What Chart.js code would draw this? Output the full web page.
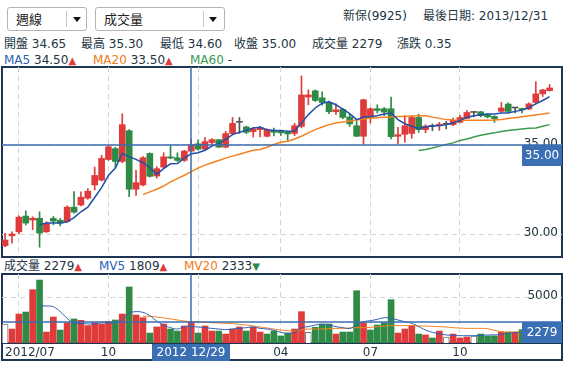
<!DOCTYPE html>
<html>
<head>
<meta charset="utf-8">
<script src="https://cdn.jsdelivr.net/npm/chart.js@4.4.0/dist/chart.umd.min.js"></script>
<style>
  body { margin: 0; background: #fff; }
  #wrap { position: relative; width: 567px; height: 369px; overflow: hidden;
          font-family: "DejaVu Sans", "Noto Sans CJK TC", sans-serif; font-size: 12px; color: #23353f; }
  .t { position: absolute; white-space: nowrap; line-height: 14px; }
  .sel { position: absolute; top: 7px; height: 24px; box-sizing: border-box; border: 1px solid #b5b5b5;
         border-radius: 3px; background: #fff; }
  .sel span { position: absolute; left: 8px; top: 4px; font-size: 13px; line-height: 15px; color: #222; }
  .sep { position: absolute; top: 3px; width: 1px; height: 16px; background: #c8c8c8; }
  .arr { position: absolute; top: 9px; width: 0; height: 0; border-left: 4px solid transparent;
         border-right: 4px solid transparent; border-top: 5px solid #111; }
  .frame { position: absolute; box-sizing: border-box; border: 2px solid #1d3553; }
  .up { color: #e03b3b; font-size: 10px; }
  .dn { color: #2f8a45; font-size: 10px; }
  canvas { position: absolute; left: 0; top: 0; }
</style>
</head>
<body>
<div id="wrap">
  <div class="sel" style="left:7px;width:80px;"><span>週線</span><i class="sep" style="left:58px"></i><i class="arr" style="left:65px"></i></div>
  <div class="sel" style="left:95px;width:130px;"><span>成交量</span><i class="sep" style="left:107px"></i><i class="arr" style="left:113px"></i></div>
  <div class="t" style="left:343px;top:9px">新保(9925)</div>
  <div class="t" style="left:423px;top:9px">最後日期: 2013/12/31</div>

  <div class="t" style="left:4px;top:37px">開盤 34.65</div>
  <div class="t" style="left:81px;top:37px">最高 35.30</div>
  <div class="t" style="left:160px;top:37px">最低 34.60</div>
  <div class="t" style="left:234px;top:37px">收盤 35.00</div>
  <div class="t" style="left:312px;top:37px">成交量 2279</div>
  <div class="t" style="left:397px;top:37px">漲跌 0.35</div>

  <div class="t" style="left:4px;top:53px"><span style="color:#2d5fb5">MA5</span> 34.50<span class="up">▲</span></div>
  <div class="t" style="left:93px;top:53px"><span style="color:#f07a16">MA20</span> 33.50<span class="up">▲</span></div>
  <div class="t" style="left:190px;top:53px"><span style="color:#3c9a4f">MA60</span> -</div>

  <div class="t" style="left:4px;top:259px">成交量 2279<span class="up">▲</span></div>
  <div class="t" style="left:99px;top:259px"><span style="color:#2d5fb5">MV5</span> 1809<span class="up">▲</span></div>
  <div class="t" style="left:184px;top:259px"><span style="color:#f07a16">MV20</span> 2333<span class="dn">▼</span></div>

  <div class="frame" style="left:1px;top:66px;width:562px;height:192px;"></div>
  <div class="frame" style="left:1px;top:273px;width:562px;height:88px;"></div>
  <div style="position:absolute;left:1px;top:342px;width:562px;height:2px;background:#1d3553;"></div>

  <canvas id="price" width="567" height="369"></canvas>
  <canvas id="volume" width="567" height="369"></canvas>
</div>

<script>
// weekly candles, index 0 = week of 2012/06/23 ... index 79 = week of 2013/12/31
const open  = [29.37,29.92,30.14,31.02,30.80,30.90,30.14,30.89,30.79,30.72,
               31.52,31.64,32.02,32.76,33.03,34.18,34.79,34.07,35.79,32.52,
               32.76,34.52,33.26,33.76,34.33,34.28,34.13,34.65,35.06,34.76,
               35.13,35.29,34.87,35.63,36.26,36.00,35.74,35.85,35.48,35.81,
               35.76,35.70,35.64,36.03,37.67,38.02,37.63,37.37,36.85,36.98,
               36.56,36.07,35.48,36.50,37.02,37.02,37.02,35.48,35.59,35.64,
               36.53,35.85,36.03,36.08,36.15,36.13,36.26,36.48,36.81,36.85,
               36.68,36.59,36.87,37.28,37.06,37.03,37.00,37.37,37.85,38.03];
const high  = [30.06,30.14,31.03,31.31,30.98,31.26,30.70,31.00,30.89,31.59,
               32.39,32.37,32.56,33.76,34.41,34.98,34.87,36.74,35.85,33.57,
               34.35,34.55,33.78,34.56,34.98,34.56,34.70,35.30,35.28,35.41,
               35.35,35.30,35.76,36.53,36.53,36.05,35.98,36.03,35.90,35.94,
               35.82,35.74,36.20,38.85,38.07,38.07,37.96,37.44,37.29,37.02,
               36.72,36.31,37.55,37.06,37.24,37.09,37.67,35.98,36.63,36.63,
               36.72,36.13,36.17,36.26,36.31,36.50,36.65,36.91,36.85,36.87,
               36.76,36.63,37.37,37.35,37.08,37.05,37.35,38.53,38.10,38.37];
const low   = [29.31,29.50,30.02,30.52,30.26,29.28,30.11,30.53,30.48,30.67,
               31.18,31.59,31.96,32.48,32.98,34.13,33.72,34.00,32.11,32.17,
               32.70,33.20,33.14,33.72,34.22,34.07,34.07,34.60,34.70,34.74,
               35.03,34.85,34.83,35.57,35.63,35.63,35.44,35.44,35.44,35.50,
               35.52,35.24,35.52,35.95,37.24,37.42,37.22,36.74,36.70,36.46,
               36.03,35.46,35.06,36.22,36.78,36.63,35.33,35.06,35.15,35.37,
               35.70,35.67,35.79,35.81,35.89,36.07,36.22,36.46,36.56,36.56,
               36.50,36.26,36.81,36.81,36.78,36.78,36.96,37.29,37.70,38.00];
const close = [29.68,30.02,30.96,30.63,30.90,30.07,30.61,30.74,30.63,31.52,
               31.24,32.07,32.41,33.29,34.24,34.89,34.07,36.13,32.52,32.89,
               34.28,33.24,33.67,34.33,34.26,34.13,34.65,35.00,34.76,35.18,
               35.29,34.87,35.63,36.20,36.26,35.70,35.89,35.98,35.85,35.70,
               35.67,35.61,36.07,37.79,37.79,37.48,37.37,36.85,36.96,36.53,
               36.17,35.48,37.52,37.02,36.92,36.83,35.46,35.57,36.07,36.53,
               35.85,36.05,36.03,36.15,36.15,36.37,36.53,36.81,36.81,36.63,
               36.56,36.46,37.06,36.87,37.06,36.96,37.29,37.85,38.07,38.18];
const volume = [2080,1530,3170,3390,5830,6890,1200,2840,1420,2220,
                2630,2480,1900,2220,2080,2370,2520,3170,6130,3060,
                2770,1090,1750,2080,1530,1310,1860,2279,1090,1860,
                1310,1310,980,1530,1750,1310,1750,1200,980,1310,
                770,1090,1530,3430,1170,1710,2080,2080,980,1200,
                1200,5720,2220,1420,1970,2220,4740,1090,1530,1900,
                980,880,550,1310,660,980,550,660,770,980,
                770,770,1200,1200,1200,1460,1250,1900,1400,1300];

// moving averages as drawn (first value at the given index)
const ma5Start = 5;
const ma5 = [30.54,30.63,30.63,30.63,30.70,30.94,31.26,31.52,32.06,32.61,33.30,33.70,34.52,34.33,34.19,
             34.00,33.72,33.35,33.67,33.94,33.96,34.26,34.50,34.56,34.70,
             34.93,35.07,35.30,35.57,35.70,35.81,35.94,35.98,35.85,35.80,
             35.80,35.76,35.78,36.22,36.69,37.06,37.33,37.41,37.24,37.00,
             36.74,36.41,36.54,36.59,36.63,36.72,36.78,36.41,36.18,36.04,
             35.91,36.00,36.07,36.07,36.13,36.22,36.37,36.53,36.63,36.68,
             36.72,36.72,36.78,36.78,36.87,36.94,37.09,37.29,37.48,37.70];
const ma20Start = 20;
const ma20 = [32.22,32.37,32.52,32.70,32.93,33.11,33.30,33.50,33.70,33.87,
              34.00,34.13,34.26,34.37,34.48,34.59,34.70,34.74,34.87,35.02,
              35.15,35.20,35.33,35.48,35.67,35.85,36.00,36.13,36.22,36.28,
              36.33,36.39,36.44,36.50,36.52,36.54,36.56,36.59,36.59,36.61,
              36.63,36.63,36.55,36.48,36.41,36.39,36.38,36.38,36.38,36.38,
              36.38,36.39,36.42,36.47,36.52,36.57,36.62,36.67,36.72,36.78];
const ma60Start = 60;
const ma60 = [34.68,34.74,34.83,34.93,35.02,35.11,35.24,35.33,35.44,35.54,
              35.61,35.67,35.74,35.80,35.85,35.89,35.93,35.94,36.04,36.13];
const mv5Start = 5;
const mv5 = [4080,4050,3970,3430,2700,2150,2150,2080,2080,2220,2190,2190,2520,3250,3430,
             3350,2990,2410,1970,1680,1530,1790,1809,1750,1680,
             1600,1530,1460,1530,1600,1680,1750,1600,1530,1390,
             1170,1060,1170,1680,1790,1970,2040,1970,1790,1680,
             1600,1970,2330,2440,2590,2770,2700,2520,2330,2150,
             1790,1420,1170,1020,880,840,800,800,800,840,
             880,880,950,1060,1130,1170,1200,1300,1350,1400];
const mv20Start = 20;
const mv20 = [2920,2920,2840,2740,2630,2520,2410,2333,2300,2260,
              2220,2190,2150,2120,2040,1970,1860,1750,1640,1530,
              1420,1350,1310,1420,1530,1530,1530,1570,1600,1600,
              1640,1680,1680,1710,1790,1860,1900,1900,1900,1900,
              1860,1860,1820,1790,1750,1680,1640,1600,1600,1600,
              1570,1390,1240,1200,1200,1170,1170,1180,1190,1200];

// x axis ticks (first week of each quarter month) and the crosshair week
const tickIdx = [2, 15, 28, 40, 53, 66];
const tickLabels = ['2012/07', '10', '2013/01', '04', '07', '10'];
const crossIdx = 27;
const crossDate = '2012 12/29';
const priceTicks = [30, 35];
const volumeTicks = [5000];

const RED = '#e03b3b', GREEN = '#2f8a45', GRAY = '#555555';
const GRID = '#d4d4d4', CROSS = '#3d6db0', BOX = '#3b6fb3', TEXT = '#23353f';
const FONT = '12px "DejaVu Sans", "Noto Sans CJK TC", sans-serif';
const X_MIN = -0.45, X_MAX = 80.8;

const idx = close.map((c, i) => i);
const candleColors = idx.map(i => close[i] > open[i] ? RED : (close[i] < open[i] ? GREEN : GRAY));
const flat = i => i === 0 || close[i] === close[i - 1];
const volColors = idx.map(i => flat(i) ? '#ffffff' : (close[i] > close[i - 1] ? RED : GREEN));
const volBorderW = idx.map(i => flat(i) ? 1 : 0);

function pts(arr, start) {
  return arr.map((v, k) => ({ x: start + k, y: v }));
}

function xScale() {
  return {
    type: 'linear', min: X_MIN, max: X_MAX, offset: false,
    afterBuildTicks: s => { s.ticks = tickIdx.map(v => ({ value: v })); },
    ticks: { display: false },
    grid: { color: GRID, drawTicks: false, offset: false },
    border: { display: false, dash: [5, 4] },
    afterFit: s => { s.height = 0; }
  };
}

function yScale(min, max, ticks) {
  return {
    type: 'linear', position: 'right', min: min, max: max,
    afterBuildTicks: s => { s.ticks = ticks.map(v => ({ value: v })); },
    ticks: { display: false },
    grid: { color: GRID, drawTicks: false },
    border: { display: false, dash: [5, 4] },
    afterFit: s => { s.width = 0; }
  };
}

function line(data, color, width, tension) {
  return { type: 'line', data: data, borderColor: color, borderWidth: width, pointRadius: 0,
           tension: tension, fill: false, order: 0 };
}

// labels, crosshair and value boxes
function overlay(id, ticks, fmt, crossValue, withDates) {
  return {
    id: id,
    afterDraw(chart) {
      const { ctx, chartArea: a, scales: { x, y } } = chart;
      ctx.save();
      ctx.font = FONT;
      ctx.fillStyle = TEXT;
      ctx.textAlign = 'right';
      ctx.textBaseline = 'middle';
      ticks.forEach(v => ctx.fillText(fmt(v), a.right - 4, y.getPixelForValue(v) - 1));

      if (withDates) {
        ctx.textAlign = 'left';
        tickIdx.forEach((v, k) => {
          const w = ctx.measureText(tickLabels[k]).width;
          const px = Math.max(x.getPixelForValue(v) - w / 2, a.left + 3);
          ctx.fillText(tickLabels[k], px, a.bottom + 10);
        });
      }

      const cx = Math.round(x.getPixelForValue(crossIdx));
      const cy = Math.round(y.getPixelForValue(crossValue));
      ctx.strokeStyle = CROSS;
      ctx.lineWidth = 1.5;
      ctx.beginPath();
      ctx.moveTo(a.left, cy); ctx.lineTo(a.right, cy);
      ctx.moveTo(cx, a.top); ctx.lineTo(cx, a.bottom);
      ctx.stroke();

      ctx.fillStyle = BOX;
      ctx.fillRect(a.right - 40, cy, 40, 21);
      ctx.fillStyle = '#ffffff';
      ctx.textAlign = 'center';
      ctx.fillText(fmt(crossValue), a.right - 20, cy + 11);

      if (withDates) {
        ctx.fillStyle = BOX;
        ctx.fillRect(cx - 39, a.bottom + 1, 78, 17);
        ctx.fillStyle = '#ffffff';
        ctx.fillText(crossDate, cx, a.bottom + 10);
      }
      ctx.restore();
    }
  };
}

const common = {
  responsive: false,
  animation: false,
  events: [],
  plugins: { legend: { display: false }, tooltip: { enabled: false } }
};

new Chart(document.getElementById('price'), {
  type: 'bar',
  data: {
    datasets: [
      line(pts(ma5, ma5Start), '#2050aa', 1.5, 0),
      line(pts(ma20, ma20Start), '#f5821f', 1.5, 0),
      line(pts(ma60, ma60Start), '#3c9a4f', 1.5, 0),
      { label: 'body', data: idx.map(i => ({ x: i, y: [open[i], close[i]] })),
        backgroundColor: candleColors, barThickness: 6, grouped: false, minBarLength: 1, order: 1 },
      { label: 'wick', data: idx.map(i => ({ x: i, y: [low[i], high[i]] })),
        backgroundColor: candleColors, barThickness: 1, grouped: false, order: 2 }
    ]
  },
  options: Object.assign({}, common, {
    layout: { padding: { left: 2, right: 5, top: 67, bottom: 113 } },
    scales: { x: xScale(), y: yScale(28.79, 39.35, priceTicks) }
  }),
  plugins: [overlay('priceOverlay', priceTicks, v => v.toFixed(2), close[crossIdx], false)]
});

new Chart(document.getElementById('volume'), {
  type: 'bar',
  data: {
    datasets: [
      line(pts(mv5, mv5Start), '#2f5fb8', 1, 0.4),
      line(pts(mv20, mv20Start), '#f5821f', 1, 0.4),
      { label: 'volume', data: idx.map(i => ({ x: i, y: volume[i] })),
        backgroundColor: volColors, borderColor: '#777777', borderWidth: volBorderW,
        barThickness: 6, grouped: false, order: 1 }
    ]
  },
  options: Object.assign({}, common, {
    layout: { padding: { left: 2, right: 5, top: 274, bottom: 26 } },
    scales: { x: xScale(), y: yScale(0, 7550, volumeTicks) }
  }),
  plugins: [overlay('volumeOverlay', volumeTicks, v => String(v), volume[crossIdx], true)]
});
</script>
</body>
</html>
